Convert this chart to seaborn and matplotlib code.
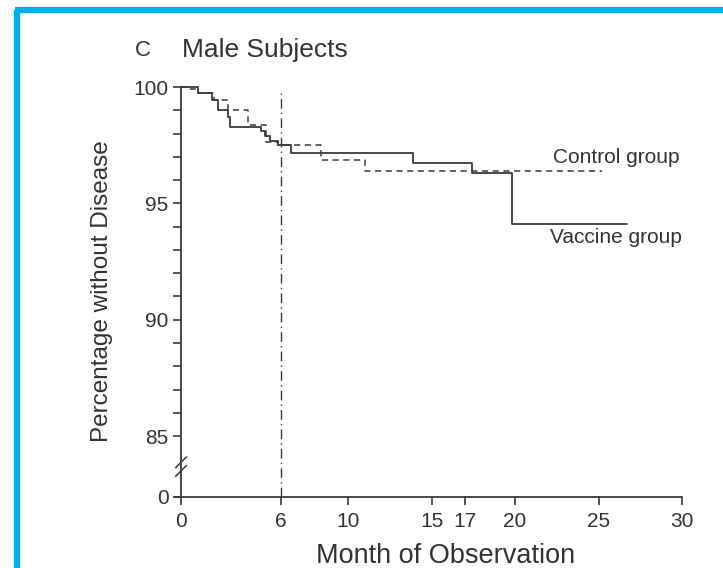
import matplotlib
matplotlib.use("Agg")
import matplotlib.pyplot as plt
import seaborn as sns
import pandas as pd
import numpy as np
from matplotlib.lines import Line2D
from matplotlib.ticker import FixedLocator

# ---- data ----
vaccine_months = [0, 1.0, 1.85, 2.2, 2.8, 2.95, 4.8, 5.0, 5.3, 5.8, 6.6, 13.9, 17.4, 19.8, 26.7]
vaccine_pct = [100, 99.73, 99.43, 99.0, 98.7, 98.3, 98.1, 97.9, 97.7, 97.5, 97.15, 96.75, 96.3, 94.1, 94.1]
control_months = [0, 0.45, 1.0, 2.0, 2.8, 4.0, 5.1, 5.8, 8.4, 11.0, 25.2]
control_pct = [100, 99.9, 99.73, 99.43, 99.0, 98.35, 97.65, 97.5, 96.85, 96.4, 96.4]
x_ticks = [0, 6, 10, 15, 17, 20, 25, 30]
y_ticks = [85, 90, 95, 100]
y_break_value = 82.38   # where the "0" of the broken axis sits
vline_month = 6

sns.set_theme(style="ticks")
plt.rcParams['font.family'] = ['Liberation Sans', 'DejaVu Sans']

fig = plt.figure(figsize=(7.23, 5.68), dpi=100)
fig.patch.set_facecolor("white")
ax = fig.add_axes([175/723, 71/568, 507/723, 412.3/568])

df_v = pd.DataFrame({"month": vaccine_months, "pct": vaccine_pct})
df_c = pd.DataFrame({"month": control_months, "pct": control_pct})

sns.lineplot(data=df_v, x="month", y="pct", ax=ax, drawstyle="steps-post",
             color="#3a3a3a", linewidth=1.3, estimator=None)
sns.lineplot(data=df_c, x="month", y="pct", ax=ax, drawstyle="steps-post",
             color="#3a3a3a", linewidth=1.1, linestyle=(0, (4, 3)), estimator=None)

ax.axvline(vline_month, ymin=0, ymax=(99.9 - y_break_value) / (100.1 - y_break_value),
           color="#3a3a3a", linewidth=1.0, linestyle=(0, (7, 3, 1, 3)))

ax.set_xlim(-0.36, 30)
ax.set_ylim(y_break_value, 100.1)
ax.set_xticks(x_ticks)
ax.set_xticklabels([str(t) for t in x_ticks])
ax.set_yticks([y_break_value] + y_ticks)
ax.set_yticklabels(["0"] + [str(t) for t in y_ticks])
ax.yaxis.set_minor_locator(FixedLocator([v for v in range(86, 100) if v % 5 != 0]))

ax.spines["top"].set_visible(False)
ax.spines["right"].set_visible(False)
ax.spines["left"].set_position(("data", 0))
ax.spines["left"].set_bounds(y_break_value, 100)
for s in ("left", "bottom"):
    ax.spines[s].set_color("#3a3a3a")
    ax.spines[s].set_linewidth(1.3)
ax.tick_params(axis="both", which="major", direction="out", length=6, width=1.2,
               color="#3a3a3a", labelsize=15, labelcolor="#333333", pad=3)
ax.tick_params(axis="x", which="major", pad=5)
ax.tick_params(axis="y", which="minor", direction="out", length=6, width=1.2, color="#3a3a3a")

ax.set_xlabel("Month of Observation", fontsize=19.5, color="#333333")
ax.xaxis.set_label_coords(0.533, -0.112)
ax.set_ylabel("Percentage without Disease", fontsize=17.5, color="#333333", labelpad=15)

# break marks on the y axis
for dy in (-0.25, 0.12):
    ax.plot([-0.35, 0.35], [83.5 + dy, 84.0 + dy], color="#3a3a3a", lw=1.1,
            clip_on=False, solid_capstyle="butt")

ax.text(22.3, 96.99, "Control group", fontsize=15, color="#333333",
        ha="left", va="center")
ax.text(22.1, 93.55, "Vaccine group", fontsize=15, color="#333333",
        ha="left", va="center")

fig.text(135/723, 1 - 50/568, "C", fontsize=16, color="#333333", va="center")
fig.text(182/723, 1 - 50/568, "Male Subjects", fontsize=19, color="#333333", va="center")

# blue frame
fc = "#00AEEF"
fig.add_artist(Line2D([15/723, 1], [1 - 10/568, 1 - 10/568], color=fc, lw=4.5,
                      transform=fig.transFigure, solid_capstyle="butt"))
fig.add_artist(Line2D([17/723, 17/723], [0, 1 - 10/568], color=fc, lw=4.5,
                      transform=fig.transFigure, solid_capstyle="butt"))

fig.savefig("out.png", dpi=100, facecolor="white")
